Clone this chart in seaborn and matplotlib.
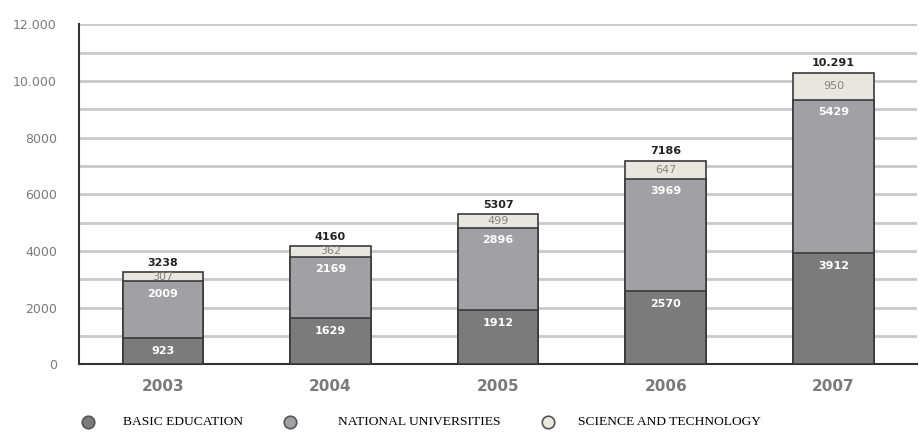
import numpy as np
import pandas as pd
import matplotlib
matplotlib.use("Agg")
import matplotlib.pyplot as plt
from matplotlib.lines import Line2D
import seaborn as sns

# --- data ---
years = ["2003", "2004", "2005", "2006", "2007"]
basic = [923, 1629, 1912, 2570, 3912]
national = [2009, 2169, 2896, 3969, 5429]
science = [307, 362, 499, 647, 950]
total_labels = ["3238", "4160", "5307", "7186", "10.291"]
ytick_vals = [0, 2000, 4000, 6000, 8000, 10000, 12000]
ytick_labels = ["0", "2000", "4000", "6000", "8000", "10.000", "12.000"]
legend_names = ["BASIC EDUCATION", "NATIONAL UNIVERSITIES", "SCIENCE AND TECHNOLOGY"]

col_basic = "#7b7b7b"
col_nat = "#a1a1a5"
col_sci = "#e9e9dd"
edge = "#3a3a3a"

sns.set_style("white")
plt.rcParams['font.family'] = ['DejaVu Sans']

df = pd.DataFrame({"year": years, "basic": basic, "national": national, "science": science})
df["cum_nat"] = df["basic"] + df["national"]
df["cum_sci"] = df["cum_nat"] + df["science"]

fig = plt.figure(figsize=(9.19, 4.32), dpi=100)
ax = fig.add_axes([0.086, 0.157, 0.912, 0.787])

# horizontal gridlines every 1000
for v in range(1000, 12001, 1000):
    ax.axhline(v, color="#c9c9c9", lw=2.0, zorder=0)

bw = 0.48
sns.barplot(data=df, x="year", y="cum_sci", color=col_sci, width=bw,
            edgecolor=edge, linewidth=1.2, ax=ax, zorder=2)
sns.barplot(data=df, x="year", y="cum_nat", color=col_nat, width=bw,
            edgecolor=edge, linewidth=1.2, ax=ax, zorder=3)
sns.barplot(data=df, x="year", y="basic", color=col_basic, width=bw,
            edgecolor=edge, linewidth=1.2, ax=ax, zorder=4)
for p in ax.patches:
    p.set_facecolor(p.get_facecolor()[:3] + (1.0,))

for i in range(len(years)):
    ax.annotate(str(basic[i]), (i, basic[i]), xytext=(0, -9), textcoords="offset points",
                ha="center", va="center", color="white", fontsize=8, fontweight="bold", zorder=6)
    ax.annotate(str(national[i]), (i, df["cum_nat"][i]), xytext=(0, -9), textcoords="offset points",
                ha="center", va="center", color="white", fontsize=8, fontweight="bold", zorder=6)
    ax.text(i, df["cum_nat"][i] + science[i] / 2, str(science[i]), ha="center", va="center",
            color="#85857c", fontsize=8, zorder=6)
    ax.annotate(total_labels[i], (i, df["cum_sci"][i]), xytext=(0, 3), textcoords="offset points",
                ha="center", va="bottom", color="#222222", fontsize=8, fontweight="bold", zorder=6)

ax.set_ylim(0, 12000)
ax.set_xlim(-0.5, 4.5)
ax.set_yticks(ytick_vals)
ax.set_yticklabels(ytick_labels, color="#7a7a7a", fontsize=9)
ax.tick_params(axis="y", length=0, pad=16)
ax.tick_params(axis="x", length=0, pad=11, labelsize=11, labelcolor="#7a7a7a")
for t in ax.get_xticklabels():
    t.set_fontweight("bold")
ax.set_xlabel("")
ax.set_ylabel("")

# small black markers between categories
ax.set_xticks([0.5, 1.5, 2.5, 3.5], minor=True)
ax.tick_params(axis="x", which="minor", length=4, width=3, color="black", direction="out")

for s in ["top", "right"]:
    ax.spines[s].set_visible(False)
ax.spines["left"].set_color("#333333")
ax.spines["left"].set_linewidth(1.5)
ax.spines["bottom"].set_color("#333333")
ax.spines["bottom"].set_linewidth(1.5)

# legend (placed by hand to follow the reference spacing)
marker_x = [88 / 919, 290 / 919, 548 / 919]
text_x = [123 / 919, 338 / 919, 578 / 919]
leg_y = 1 - 422 / 432
for c, mx, tx, name in zip([col_basic, col_nat, col_sci], marker_x, text_x, legend_names):
    fig.add_artist(Line2D([mx], [leg_y], marker="o", ls="", markersize=9, markerfacecolor=c,
                          markeredgecolor="#555555", markeredgewidth=1.2,
                          transform=fig.transFigure))
    fig.text(tx, leg_y, name, ha="left", va="center", fontsize=9.7,
             family="Liberation Serif", color="black")

fig.savefig("out.png", dpi=100)
